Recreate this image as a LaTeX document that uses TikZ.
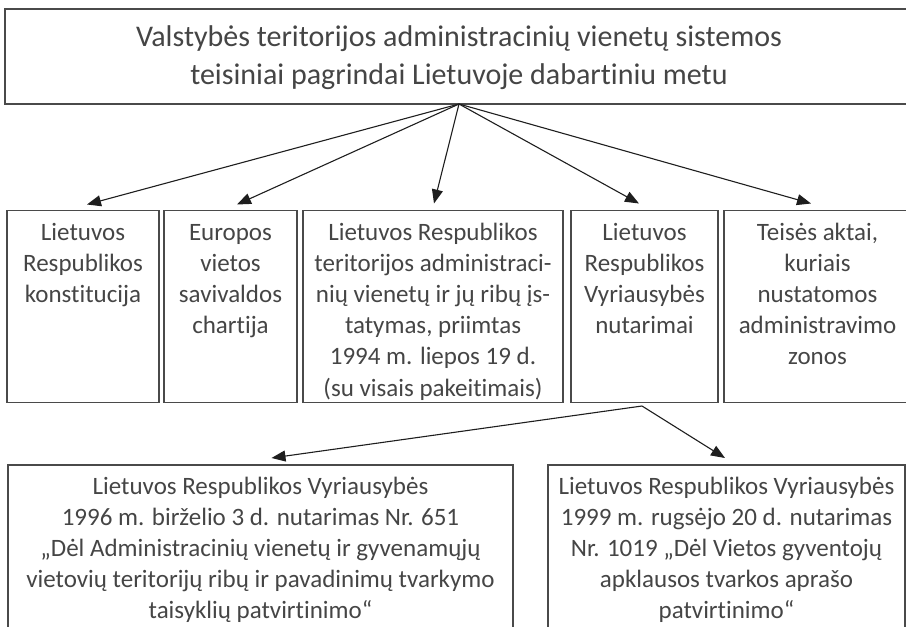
\documentclass[tikz,border=0pt]{standalone}
\usepackage{fontspec}
\setmainfont{Carlito}[RawFeature=-liga, RawFeature=-clig, RawFeature=-calt, RawFeature=-dlig]
\usetikzlibrary{arrows.meta}
\definecolor{txtc}{HTML}{454545}
\definecolor{linec}{HTML}{4A4A4A}
\definecolor{arrc}{HTML}{1E1E1E}
\begin{document}
\begin{tikzpicture}[x=1pt,y=-1pt,
  box/.style={draw=linec, line width=1.1pt, inner sep=0pt, outer sep=0pt},
  lbl/.style={text=txtc, align=center, inner sep=0pt, anchor=base, font=\fontsize{25}{31.2}\selectfont},
  ttl/.style={text=txtc, align=center, inner sep=0pt, anchor=base, font=\fontsize{30}{38}\selectfont},
  arr/.style={draw=arrc, line width=1.1pt, -{Triangle[length=14pt,width=11pt]}}]
\useasboundingbox (0,0) rectangle (906,627);
% title box
\node[box, minimum width=908pt, minimum height=95pt] (top) at (459,56.5) {};
% (anchor base = baseline of the last line)
\node[ttl] (toptxt) at (459,84) {Valstybės teritorijos administracinių vienetų sistemos\\teisiniai pagrindai Lietuvoje dabartiniu metu};
% row boxes
\node[box, minimum width=152pt, minimum height=192pt] (b1) at (83,306.5) {};
\node[box, minimum width=133pt, minimum height=192pt] (b2) at (230.5,306.5) {};
\node[box, minimum width=260pt, minimum height=192pt] (b3) at (433,306.5) {};
\node[box, minimum width=147pt, minimum height=192pt] (b4) at (644.5,306.5) {};
\node[box, minimum width=187pt, minimum height=192pt] (b5) at (817.5,306.5) {};
\node[lbl] (t1) at (83,302.4) {Lietuvos\\Respublikos\\konstitucija};
\node[lbl] (t2) at (230.5,333.6) {Europos\\vietos\\savivaldos\\chartija};
\node[lbl] (t3) at (433,396) {Lietuvos Respublikos\\teritorijos administraci-\\nių vienetų ir jų ribų įs-\\tatymas, priimtas\\1994 m. liepos 19 d.\\(su visais pakeitimais)};
\node[lbl] (t4) at (644.5,333.6) {Lietuvos\\Respublikos\\Vyriausybės\\nutarimai};
\node[lbl] (t5) at (817.5,364.8) {Teisės aktai,\\kuriais\\nustatomos\\administravimo\\zonos};
% bottom boxes
\node[box, minimum width=505pt, minimum height=185pt] (b6) at (260.5,557.5) {};
\node[box, minimum width=357pt, minimum height=185pt] (b7) at (726.5,557.5) {};
\node[lbl] (t6) at (260.5,618.8) {Lietuvos Respublikos Vyriausybės\\1996 m. birželio 3 d. nutarimas Nr. 651\\„Dėl Administracinių vienetų ir gyvenamųjų\\vietovių teritorijų ribų ir pavadinimų tvarkymo\\taisyklių patvirtinimo“};
\node[lbl] (t7) at (726.5,618.8) {Lietuvos Respublikos Vyriausybės\\1999 m. rugsėjo 20 d. nutarimas\\Nr. 1019 „Dėl Vietos gyventojų\\apklausos tvarkos aprašo\\patvirtinimo“};
% arrows
\draw[arr] (top.south) -- ([shift={(4,-6)}]b1.north);
\draw[arr] (top.south) -- ([shift={(6.5,-6)}]b2.north);
\draw[arr] (top.south) -- ([shift={(1,-7)}]b3.north);
\draw[arr] (top.south) -- ([shift={(-5.5,-7)}]b4.north);
\draw[arr] (top.south) -- ([shift={(-6.5,-7)}]b5.north);
\coordinate (sub) at ([shift={(-2.5,3.5)}]b4.south);
\draw[arr] (sub) -- ([shift={(11,-7)}]b6.north);
\draw[arr] (sub) -- ([shift={(-1.5,-7)}]b7.north);
\end{tikzpicture}
\end{document}
